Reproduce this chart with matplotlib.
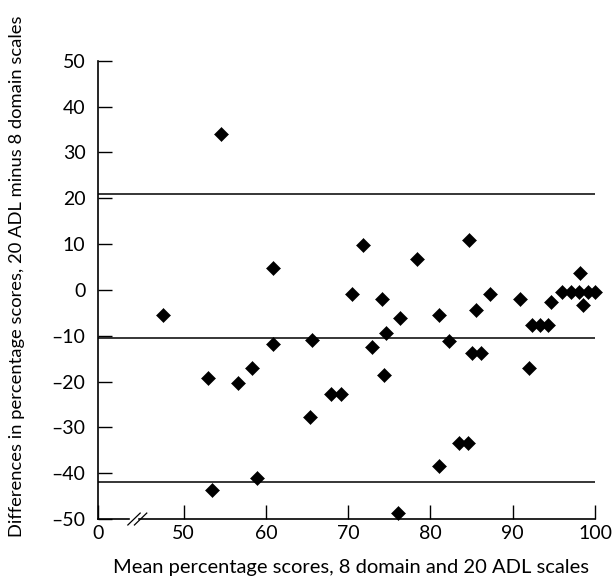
import matplotlib
matplotlib.use("Agg")
import matplotlib.pyplot as plt
import matplotlib.transforms as mtransforms

plt.rcParams["font.family"] = ["Lato", "DejaVu Sans"]

# mean percentage score (x) vs difference 20 ADL - 8 domain (y)
mean_score = [47.5, 53.0, 53.4, 54.5, 56.6, 58.3, 58.9, 60.8, 60.9, 65.4,
              65.6, 67.9, 69.1, 70.4, 71.8, 72.9, 74.1, 74.3, 74.6, 76.1,
              76.3, 78.3, 81.0, 81.0, 82.2, 83.5, 84.6, 84.7, 85.1, 85.5,
              86.2, 87.2, 90.9, 92.0, 92.3, 93.3, 94.3, 94.6, 96.0, 97.1,
              98.1, 99.2, 100.0, 98.2, 98.6]
difference = [-5.4, -19.3, -43.7, 33.9, -20.3, -17.0, -41.0, -11.9, 4.7, -27.7,
              -11.0, -22.8, -22.8, -0.9, 9.8, -12.4, -1.9, -18.6, -9.4, -48.6,
              -6.1, 6.7, -5.4, -38.4, -11.2, -33.4, -33.4, 10.9, -13.7, -4.4,
              -13.7, -0.9, -1.9, -17.0, -7.7, -7.7, -7.7, -2.7, -0.4, -0.4,
              -0.4, -0.4, -0.4, 3.7, -3.3]

# mean difference and limits of agreement
ref_lines = [21.0, -10.5, -42.0]

x_ticks = [50, 60, 70, 80, 90, 100]
y_ticks = list(range(-50, 51, 10))
x_zero = 39.58   # where the broken axis shows "0"

fig = plt.figure(figsize=(6.13, 5.82), dpi=100)
ax = fig.add_axes([0.16, 0.1082, 0.8106, 0.7875])

ax.plot(mean_score, difference, linestyle="none", marker="D", ms=7.6,
        color="black", mew=0.4, clip_on=False, zorder=3)

for yv in ref_lines:
    ax.plot([x_zero, 100], [yv, yv], color="black", lw=1.1)

ax.set_xlim(x_zero, 100)
ax.set_ylim(-50, 50)
ax.set_xticks([x_zero] + x_ticks)
ax.set_xticklabels(["0"] + [str(t) for t in x_ticks])
ax.set_yticks(y_ticks)
ax.set_yticklabels([str(t).replace("-", "\u2013") for t in y_ticks])

for s in ["top", "right"]:
    ax.spines[s].set_visible(False)
for s in ["left", "bottom"]:
    ax.spines[s].set_linewidth(1.2)

ax.tick_params(direction="in", length=10, width=1.0, labelsize=14)
ax.tick_params(axis="y", pad=9)
ax.tick_params(axis="x", pad=4)

# axis break marks
trans = mtransforms.blended_transform_factory(ax.transData, ax.transAxes)
ax.add_patch(plt.Rectangle((43.5, -0.01), 0.8, 0.02, transform=trans,
                           color="white", clip_on=False, zorder=4))
for x0 in [43.2, 44.0]:
    ax.plot([x0, x0 + 1.5], [-0.013, 0.013], transform=trans, color="black",
            lw=0.9, clip_on=False, zorder=5)

ax.set_xlabel("Mean percentage scores, 8 domain and 20 ADL scales",
              fontsize=14.5)
ax.set_ylabel("Differences in percentage scores, 20 ADL minus 8 domain scales",
              fontsize=13.2)
ax.xaxis.set_label_coords(0.51, -0.087)
ax.yaxis.set_label_coords(-0.148, 0.53)

fig.savefig("out.png", dpi=100)
